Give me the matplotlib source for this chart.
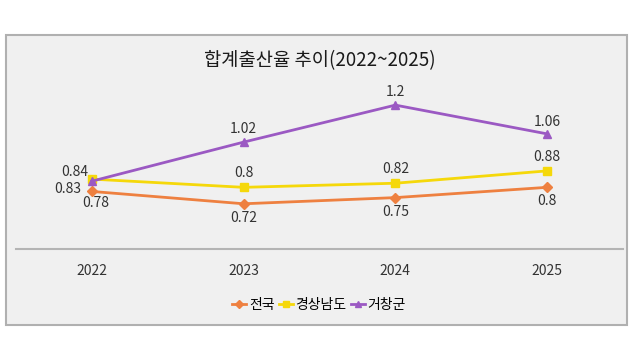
import matplotlib
matplotlib.use("Agg")
import matplotlib.pyplot as plt
from matplotlib.patches import Rectangle

plt.rcParams['font.family'] = ['Noto Sans CJK KR', 'DejaVu Sans']

# Data
years = ["2022", "2023", "2024", "2025"]
national = [0.78, 0.72, 0.75, 0.8]       # 전국
gyeongnam = [0.84, 0.8, 0.82, 0.88]      # 경상남도
geochang = [0.83, 1.02, 1.2, 1.06]       # 거창군
series_names = ["전국", "경상남도", "거창군"]

W, H = 640, 360
fig = plt.figure(figsize=(6.4, 3.6), dpi=100)
fig.patch.set_facecolor("white")

# outer box
fig.patches.append(Rectangle((6 / W, 1 - 325 / H), (627 - 6) / W, (325 - 35) / H,
                             transform=fig.transFigure, facecolor="#f0f0f0",
                             edgecolor="#b0b0b0", linewidth=1.5, zorder=-1))

fig.text(0.5, 1 - 61 / H, "합계출산율 추이(2022~2025)", ha="center", va="center",
         fontsize=13.5, fontweight="medium", color="#1a1a1a")

ax = fig.add_axes([16 / W, 1 - 249 / H, (623 - 16) / W, (249 - 64) / H])
ax.set_zorder(2)
ax.set_facecolor("none")
x = list(range(len(years)))

colors = ["#EE8040", "#F5D80A", "#9B59C3"]
markers = ["D", "s", "^"]
msizes = [5, 6, 6]
data = [national, gyeongnam, geochang]
for vals, c, m, ms, name in zip(data, colors, markers, msizes, series_names):
    ax.plot(x, vals, color=c, marker=m, markersize=ms, linewidth=2, label=name)

# value labels (pixel offsets from point)
offsets = {
    0: [(4, -12), (0, -14), (0, -14), (0, -14)],
    1: [(-17, 7), (0, 14), (0, 14), (0, 14)],
    2: [(-24, -8), (0, 13), (0, 13), (0, 12)],
}
for si, vals in enumerate(data):
    for i, v in enumerate(vals):
        dx, dy = offsets[si][i]
        ax.annotate(f"{v:g}", (i, v), xytext=(dx, dy), textcoords="offset pixels",
                    ha="center", va="center", fontsize=10, color="#333333")

ax.set_xlim(-0.5, 3.5)
ax.set_ylim(0.5, 1.4)
ax.set_yticks([])
ax.set_xticks(x)
ax.set_xticklabels(years, fontsize=10, color="#333333")
ax.tick_params(axis="x", length=0, pad=11)
for s in ["top", "right", "left"]:
    ax.spines[s].set_visible(False)
ax.spines["bottom"].set_color("#b4b4b4")
ax.spines["bottom"].set_linewidth(1.5)

fig.legend(loc="center", bbox_to_anchor=(319 / W, 1 - 305 / H), ncol=3, frameon=False,
           fontsize=10, handlelength=1.0, handletextpad=0.2, columnspacing=0.3,
           markerscale=0.8)

fig.savefig("out.png", dpi=100)
